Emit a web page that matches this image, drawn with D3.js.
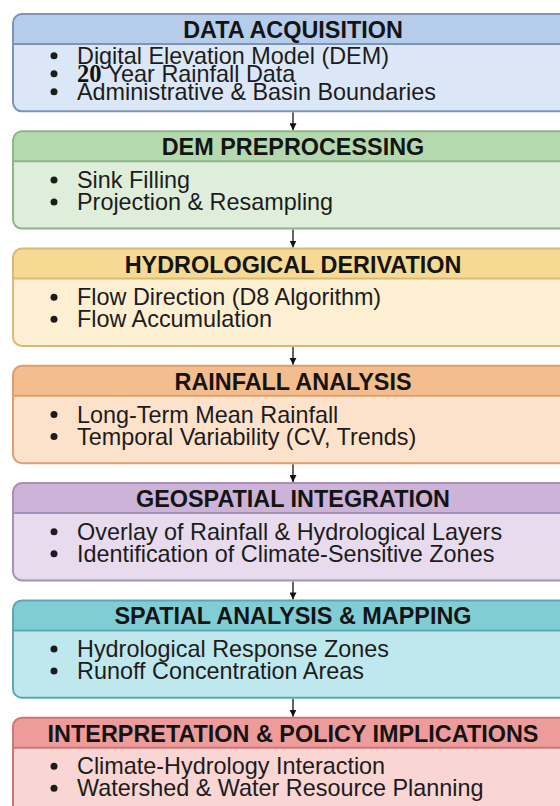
<!DOCTYPE html>
<html lang="en">
<head>
    <meta charset="UTF-8">
    <title>Workflow</title>
    <style>
        body { margin: 0; background: #fff; }
        .head text { font: bold 23.4px "Liberation Sans", Arial, sans-serif; fill: #141414; text-anchor: middle; }
        .item text { font: 23.4px "Liberation Sans", Arial, sans-serif; fill: #1c1c1c; }
        .serif { font-family: "Liberation Serif", "Times New Roman", serif; font-weight: bold; font-size: 24.5px; fill: #111; }
    </style>
</head>
<body>
    <svg id="flow" width="560" height="806"></svg>

    <script src="https://d3js.org/d3.v7.min.js"></script>
    <script>

        // stage titles and the bullet points under each one
        var stages = ["DATA ACQUISITION", "DEM PREPROCESSING", "HYDROLOGICAL DERIVATION", "RAINFALL ANALYSIS",
            "GEOSPATIAL INTEGRATION", "SPATIAL ANALYSIS & MAPPING", "INTERPRETATION & POLICY IMPLICATIONS"];

        var steps = [
            ["Digital Elevation Model (DEM)", "20 Year Rainfall Data", "Administrative & Basin Boundaries"],
            ["Sink Filling", "Projection & Resampling"],
            ["Flow Direction (D8 Algorithm)", "Flow Accumulation"],
            ["Long-Term Mean Rainfall", "Temporal Variability (CV, Trends)"],
            ["Overlay of Rainfall & Hydrological Layers", "Identification of Climate-Sensitive Zones"],
            ["Hydrological Response Zones", "Runoff Concentration Areas"],
            ["Climate-Hydrology Interaction", "Watershed & Water Resource Planning"]
        ];

        // palette: header band, body, outline
        var headColors = ['#b5cdea', '#b4d9ae', '#f6da94', '#f4bd8e', '#ccb3d7', '#80cdd6', '#ee9c9b'];
        var bodyColors = ['#dbe7f6', '#dfeedb', '#fcefd2', '#fde2cb', '#e7dbed', '#bee8ee', '#f9d5d3'];
        var lineColors = ['#7d95b3', '#8db587', '#d6ba76', '#dc9e6e', '#a88fb4', '#5ea7b1', '#cd7676'];

        var svg = d3.select("#flow");

        var left = 13, boxW = 560, headH = 30, cx = left + boxW / 2;

        var y = d3.scaleBand()
            .domain(stages)
            .range([14, 815])
            .paddingInner(0.17);

        var head = d3.scaleOrdinal(stages, headColors),
            body = d3.scaleOrdinal(stages, bodyColors),
            edge = d3.scaleOrdinal(stages, lineColors);

        var defs = svg.append("defs");

        defs.append("marker")
            .attr("id", "tip")
            .attr("viewBox", "0 0 10 10")
            .attr("refX", 10).attr("refY", 5)
            .attr("markerWidth", 7).attr("markerHeight", 7)
            .attr("markerUnits", "userSpaceOnUse")
            .attr("orient", "auto")
          .append("path")
            .attr("d", "M0,0L10,5L0,10Z")
            .attr("fill", "#111");

        defs.selectAll("clipPath")
            .data(stages)
            .enter().append("clipPath")
            .attr("id", function(d, i) { return "clip" + i; })
          .append("rect")
            .attr("x", left).attr("y", function(d) { return y(d); })
            .attr("width", boxW).attr("height", y.bandwidth())
            .attr("rx", 9);

        // arrows between boxes
        svg.selectAll(".arrow")
            .data(stages.slice(1))
            .enter().append("line")
            .attr("class", "arrow")
            .attr("x1", cx).attr("x2", cx)
            .attr("y1", function(d, i) { return y(stages[i]) + y.bandwidth() + 1; })
            .attr("y2", function(d) { return y(d) - 1; })
            .attr("stroke", "#111")
            .attr("stroke-width", 1.3)
            .attr("marker-end", "url(#tip)");

        var box = svg.selectAll(".box")
            .data(stages)
            .enter().append("g")
            .attr("class", "box");

        var inner = box.append("g")
            .attr("clip-path", function(d, i) { return "url(#clip" + i + ")"; });

        inner.append("rect")
            .attr("x", left).attr("y", function(d) { return y(d); })
            .attr("width", boxW).attr("height", y.bandwidth())
            .attr("fill", function(d) { return body(d); });

        inner.append("rect")
            .attr("x", left).attr("y", function(d) { return y(d); })
            .attr("width", boxW).attr("height", headH)
            .attr("fill", function(d) { return head(d); });

        inner.append("line")
            .attr("x1", left).attr("x2", left + boxW)
            .attr("y1", function(d) { return y(d) + headH; })
            .attr("y2", function(d) { return y(d) + headH; })
            .attr("stroke", function(d) { return edge(d); })
            .attr("stroke-width", 2);

        box.append("rect")
            .attr("x", left).attr("y", function(d) { return y(d); })
            .attr("width", boxW).attr("height", y.bandwidth())
            .attr("rx", 9)
            .attr("fill", "none")
            .attr("stroke", function(d) { return edge(d); })
            .attr("stroke-width", 2);

        box.append("g").attr("class", "head")
          .append("text")
            .attr("x", cx)
            .attr("y", function(d) { return y(d) + 24; })
            .text(function(d) { return d; });

        // bullet rows, centred in the body of each box
        var rows = box.append("g").attr("class", "item")
            .selectAll("g")
            .data(function(d, k) {
                var n = steps[k].length,
                    ls = n > 2 ? 18 : 22,
                    mid = y(d) + (headH + y.bandwidth()) / 2;
                return steps[k].map(function(s, i) {
                    return { text: s, base: mid + (i - (n - 1) / 2) * ls + 4 };
                });
            })
            .enter().append("g");

        rows.append("circle")
            .attr("cx", 54)
            .attr("cy", function(d) { return d.base - 8; })
            .attr("r", 3.5)
            .attr("fill", "#1c1c1c");

        var label = rows.append("text")
            .attr("x", 77)
            .attr("y", function(d) { return d.base; });

        // the pasted-in "20" is set in a serif face
        label.each(function(d) {
            var t = d3.select(this), m = d.text.match(/^(\d+) (.*)$/);
            if (m) {
                t.append("tspan").attr("class", "serif").text(m[1] + " ");
                t.append("tspan").text(m[2]);
            } else {
                t.text(d.text);
            }
        });

    </script>
</body>
</html>
